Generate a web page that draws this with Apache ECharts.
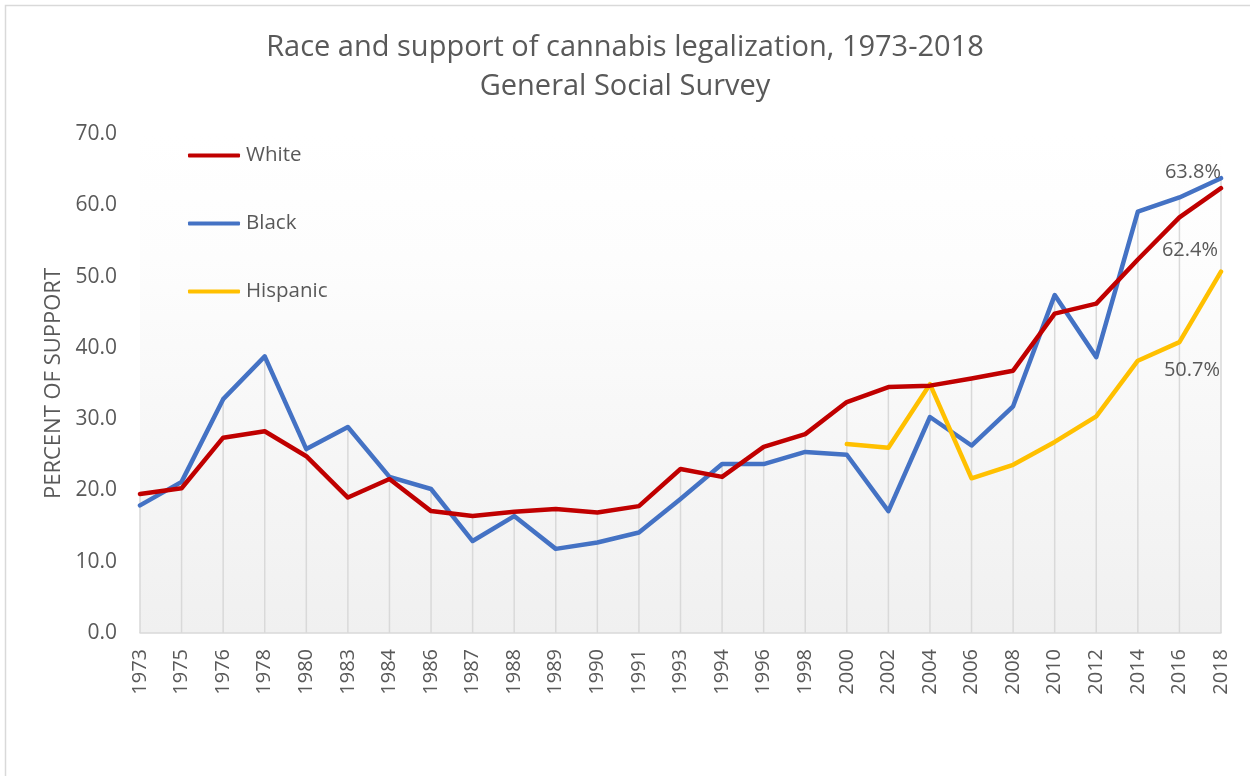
<!DOCTYPE html>
<html>
<head>
<meta charset="utf-8">
<script src="https://cdn.jsdelivr.net/npm/echarts@6/dist/echarts.min.js"></script>
<style>
html,body{margin:0;padding:0;background:#fff;}
#chart{width:1250px;height:776px;}
</style>
</head>
<body>
<div id="chart"></div>
<script>
const years = ['1973','1975','1976','1978','1980','1983','1984','1986','1987','1988','1989','1990','1991','1993','1994','1996','1998','2000','2002','2004','2006','2008','2010','2012','2014','2016','2018'];
const white = [19.5,20.3,27.4,28.3,24.8,19.0,21.6,17.1,16.4,17.0,17.4,16.9,17.8,23.0,21.9,26.1,27.9,32.4,34.5,34.7,35.7,36.8,44.8,46.2,52.4,58.3,62.4];
const black = [17.9,21.2,32.8,38.8,25.8,28.9,21.9,20.2,12.9,16.4,11.8,12.7,14.1,18.8,23.7,23.7,25.4,25.0,17.1,30.3,26.3,31.8,47.4,38.7,59.1,61.1,63.8];
const hispanic = [null,null,null,null,null,null,null,null,null,null,null,null,null,null,null,null,null,26.5,26.0,34.9,21.7,23.6,26.8,30.4,38.2,40.8,50.7];
const seriesNames = ['White','Black','Hispanic'];
const colors = ['#C00000','#4472C4','#FFC000'];
const labelOffsets = [[-3,62],[0,-6],[-1,99]];

const font = "'Open Sans', 'Liberation Sans', sans-serif";
const textColor = '#595959';

// drop lines: from axis to the highest value at each category
const dropTop = years.map((_,i)=>Math.max(white[i], black[i], hispanic[i] == null ? 0 : hispanic[i]));

function buildData(arr, idx){
  return arr.map((v,i)=>{
    if(i === arr.length-1 && v != null){
      return {value:v, label:{show:true, position:'left', distance:0, offset:labelOffsets[idx],
        formatter:(p)=>p.value.toFixed(1)+'%', color:textColor, fontSize:20, fontFamily:font}};
    }
    return v;
  });
}

const chart = echarts.init(document.getElementById('chart'), null, {renderer:'canvas'});
const lineSeries = [white,black,hispanic].map((arr,i)=>({
  name:seriesNames[i], type:'line', data:buildData(arr,i),
  showSymbol:true, symbol:'circle', symbolSize:0, connectNulls:false,
  lineStyle:{color:colors[i], width:4.5, cap:'round', join:'round'},
  itemStyle:{color:colors[i]},
  emphasis:{disabled:true},
  z: i===2 ? 3 : (i===0 ? 4 : 2)
}));
const option = {
  animation:false,
  backgroundColor:'#ffffff',
  graphic:[{type:'rect', left:3, top:3, shape:{width:1260, height:790}, style:{fill:'none', stroke:'#d9d9d9', lineWidth:1.5}, z:-1}],
  title:{
    text:'Race and support of cannabis legalization, 1973-2018\nGeneral Social Survey',
    left:'center', top:23,
    textStyle:{fontFamily:font, fontSize:29, fontWeight:'normal', color:textColor, lineHeight:39}
  },
  legend:{
    orient:'vertical', left:183, top:140,
    itemWidth:52, itemHeight:4, itemGap:47, icon:'roundRect',
    textStyle:{fontFamily:font, fontSize:20.5, color:textColor, lineHeight:20, padding:[0,0,0,1]},
    data:seriesNames
  },
  grid:{left:140, right:29, top:134, bottom:143, containLabel:false,
    show:true, borderWidth:0,
    backgroundColor:new echarts.graphic.LinearGradient(0,0,0,1,[{offset:0,color:'#ffffff'},{offset:0.25,color:'#fdfdfd'},{offset:1,color:'#f0f0f0'}])},
  xAxis:{
    type:'category', data:years, boundaryGap:false,
    axisLine:{show:true, lineStyle:{color:'#d9d9d9', width:1.5}},
    axisTick:{show:false},
    axisLabel:{rotate:90, margin:16, fontFamily:font, fontSize:20, color:textColor, interval:0},
    splitLine:{show:false}
  },
  yAxis:{
    type:'value', min:0, max:70, interval:10,
    name:'PERCENT OF SUPPORT', nameLocation:'middle', nameGap:73, nameRotate:90,
    nameTextStyle:{fontFamily:font, fontSize:22, color:textColor},
    axisLine:{show:false}, axisTick:{show:false},
    axisLabel:{margin:23, fontFamily:font, fontSize:21, color:textColor, formatter:(v)=>v.toFixed(1)},
    splitLine:{show:false}
  },
  series:[{
    name:'drop', type:'bar', data:dropTop, barWidth:1.5, silent:true,
    itemStyle:{color:'#d9d9d9'}, z:1, legendHoverLink:false
  }].concat(lineSeries)
};
chart.setOption(option);
</script>
</body>
</html>
